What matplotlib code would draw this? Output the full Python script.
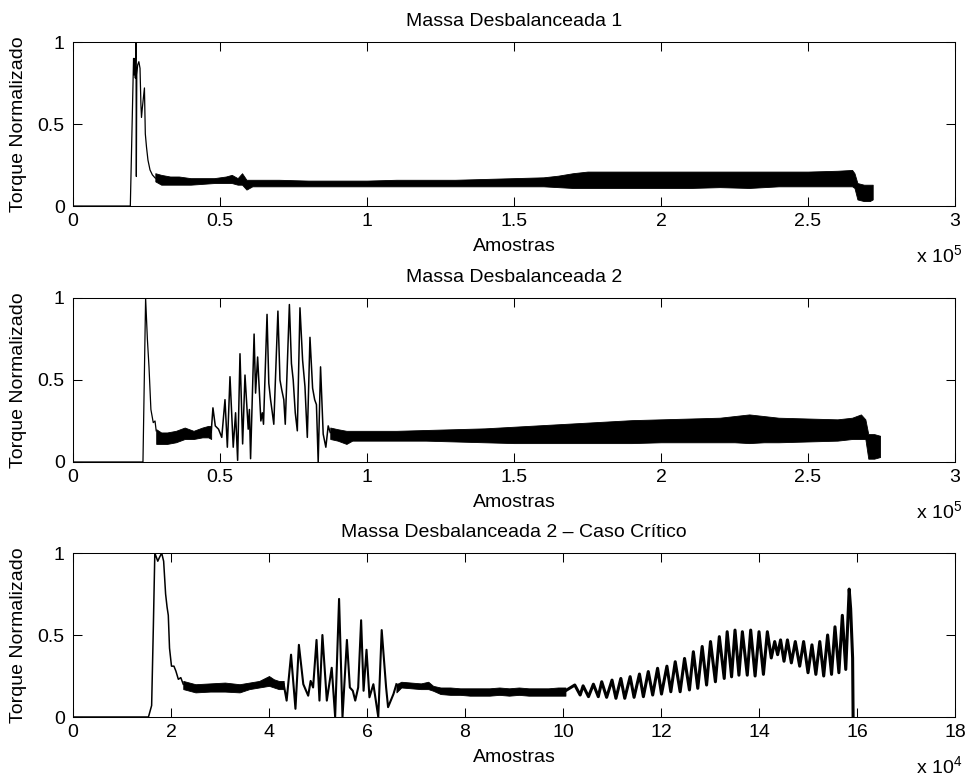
import numpy as np
import matplotlib
matplotlib.use('Agg')
import matplotlib.pyplot as plt
from matplotlib.ticker import FuncFormatter, MultipleLocator

plt.rcParams['font.family'] = ['Liberation Sans', 'DejaVu Sans']
plt.rcParams['mathtext.fontset'] = 'custom'
plt.rcParams['mathtext.rm'] = 'Liberation Sans'

TITLES = ['Massa Desbalanceada 1', 'Massa Desbalanceada 2',
          'Massa Desbalanceada 2 \u2013 Caso Cr\u00edtico']
XLABEL = 'Amostras'
YLABEL = 'Torque Normalizado'

# --- panel 1: start-up transient (line) + noisy running band (envelope) ---
m1_x = [0, 19500, 20600, 20800, 21000, 21200, 21430, 21550, 21700, 22000,
        22400, 22800, 23100, 23300, 23600, 24300, 24600, 25000, 25500,
        26200, 27000, 28000]
m1_y = [0, 0, 0.90, 0.80, 0.90, 0.78, 1.0, 0.18, 0.80, 0.86,
        0.88, 0.84, 0.62, 0.54, 0.60, 0.72, 0.44, 0.36, 0.28,
        0.22, 0.19, 0.17]
m1_bx = [28000, 30000, 33000, 36000, 40000, 44000, 48000, 52000, 54000,
         56000, 57500, 59000, 61000, 65000, 70000, 80000, 90000, 100000,
         110000, 120000, 130000, 140000, 150000, 160000, 165000, 170000,
         175000, 180000, 190000, 200000, 210000, 220000, 230000, 240000,
         250000, 260000, 265000, 265800, 266800, 269000, 271000, 272000]
m1_lo = [0.15, 0.13, 0.13, 0.13, 0.13, 0.135, 0.14, 0.14, 0.14,
         0.13, 0.13, 0.10, 0.12, 0.12, 0.12, 0.12, 0.12, 0.12,
         0.12, 0.12, 0.12, 0.12, 0.12, 0.12, 0.115, 0.11,
         0.11, 0.11, 0.11, 0.11, 0.11, 0.115, 0.11, 0.12,
         0.12, 0.12, 0.12, 0.11, 0.04, 0.03, 0.03, 0.04]
m1_hi = [0.20, 0.19, 0.18, 0.18, 0.17, 0.17, 0.17, 0.18, 0.19,
         0.17, 0.20, 0.16, 0.16, 0.16, 0.16, 0.155, 0.155, 0.155,
         0.16, 0.16, 0.16, 0.165, 0.17, 0.175, 0.185, 0.20,
         0.21, 0.21, 0.21, 0.21, 0.21, 0.21, 0.21, 0.21,
         0.21, 0.215, 0.22, 0.20, 0.14, 0.13, 0.13, 0.13]

# --- panel 2 ---
m2_x = [0, 23800, 24700, 25300, 25850, 26500, 27300, 27900, 28300]
m2_y = [0, 0, 1.0, 0.75, 0.58, 0.32, 0.24, 0.25, 0.19]
m2_b1x = [28300, 30000, 32000, 35000, 38000, 41000, 44000, 46000, 47000]
m2_b1lo = [0.11, 0.11, 0.11, 0.12, 0.14, 0.14, 0.15, 0.15, 0.14]
m2_b1hi = [0.20, 0.18, 0.18, 0.19, 0.21, 0.19, 0.21, 0.22, 0.22]
m2_sx = [47000, 47600, 48400, 49500, 50600, 51700, 52500, 53400, 54500,
         55300, 56000, 56800, 57700, 58500, 59600, 60000, 60400, 61600,
         62100, 62800, 63900, 64400, 64800, 66000, 66600, 67200, 67800,
         68300, 69700, 70400, 71000, 71700, 72200, 73600, 74300, 74900,
         75600, 76300, 77200, 78100, 78900, 79300, 79700, 80600, 81500,
         82200, 82800, 83400, 84200, 85100, 86000, 86800, 87500]
m2_sy = [0.18, 0.33, 0.22, 0.20, 0.15, 0.38, 0.09, 0.52, 0.09,
         0.30, 0.01, 0.66, 0.11, 0.53, 0.20, 0.32, 0.02, 0.78,
         0.42, 0.64, 0.25, 0.30, 0.23, 0.90, 0.48, 0.38, 0.30,
         0.23, 0.92, 0.50, 0.44, 0.38, 0.23, 0.96, 0.60, 0.50,
         0.30, 0.19, 0.94, 0.62, 0.46, 0.30, 0.15, 0.76, 0.45,
         0.38, 0.35, 0.0, 0.58, 0.17, 0.09, 0.22, 0.18]
m2_b2x = [87500, 90000, 93000, 95000, 100000, 110000, 120000, 130000,
          140000, 150000, 160000, 170000, 180000, 190000, 200000, 210000,
          220000, 225000, 230000, 235000, 240000, 250000, 260000, 265000,
          268000, 269500, 270500, 272500, 274500]
m2_b2lo = [0.14, 0.13, 0.11, 0.13, 0.13, 0.13, 0.13, 0.125,
           0.12, 0.115, 0.115, 0.115, 0.115, 0.115, 0.12, 0.12,
           0.12, 0.12, 0.115, 0.12, 0.12, 0.125, 0.13, 0.14,
           0.14, 0.14, 0.02, 0.02, 0.03]
m2_b2hi = [0.21, 0.20, 0.19, 0.19, 0.19, 0.19, 0.195, 0.20,
           0.205, 0.215, 0.225, 0.235, 0.245, 0.255, 0.26, 0.265,
           0.27, 0.28, 0.29, 0.28, 0.27, 0.265, 0.26, 0.27,
           0.29, 0.26, 0.17, 0.17, 0.16]

# --- panel 3 (critical case) ---
m3_x = [0, 15400, 16050, 16400, 16700, 17300, 17600, 18100, 18500, 18900,
        19200, 19450, 19700, 20100, 20600, 21000, 21500, 22000, 22500]
m3_y = [0, 0, 0.07, 0.55, 1.0, 0.95, 0.97, 1.0, 0.95, 0.75,
        0.67, 0.62, 0.42, 0.31, 0.31, 0.28, 0.23, 0.24, 0.20]
m3_b1x = [22500, 25000, 28000, 31000, 34000, 36000, 38000, 40000, 41000,
          42000, 43000]
m3_b1lo = [0.17, 0.15, 0.155, 0.155, 0.15, 0.17, 0.18, 0.19, 0.18, 0.17, 0.17]
m3_b1hi = [0.22, 0.20, 0.205, 0.21, 0.20, 0.21, 0.22, 0.25, 0.23, 0.22, 0.22]
m3_sx = [43000, 43600, 44500, 45400, 46100, 47000, 48000, 48500, 49000,
         49700, 50300, 50900, 51800, 52800, 53500, 54300, 55000, 55900,
         56500, 57100, 57600, 58200, 58800, 59300, 59900, 60500, 61300,
         62300, 63000, 63900, 64300, 65400, 66000]
m3_sy = [0.20, 0.10, 0.38, 0.05, 0.44, 0.20, 0.13, 0.22, 0.18,
         0.47, 0.10, 0.50, 0.10, 0.30, 0.0, 0.72, 0.0, 0.47,
         0.18, 0.16, 0.10, 0.18, 0.59, 0.16, 0.41, 0.12, 0.20,
         0.0, 0.53, 0.18, 0.06, 0.14, 0.20]
m3_b2x = [66000, 67000, 69000, 71000, 72500, 73500, 75000, 77000, 79000,
          81000, 83000, 85000, 87000, 89000, 91000, 93000, 95000, 97000,
          99000, 100500]
m3_b2lo = [0.15, 0.18, 0.175, 0.17, 0.17, 0.16, 0.14, 0.135, 0.135,
           0.13, 0.13, 0.13, 0.135, 0.13, 0.135, 0.13, 0.13, 0.13, 0.13, 0.13]
m3_b2hi = [0.20, 0.215, 0.21, 0.205, 0.215, 0.19, 0.18, 0.18, 0.175,
           0.175, 0.175, 0.175, 0.18, 0.175, 0.18, 0.175, 0.175, 0.175, 0.18, 0.18]
m3_wx = [100500, 102400, 103500, 104100, 105200, 106200, 107200, 107900,
         108900, 110000, 110800, 111800, 112600, 113700, 114500, 115600,
         116400, 117400, 118300, 119300, 120100, 121200, 122000, 122900,
         123900, 124800, 125800, 126600, 127500, 128400, 129300, 130100,
         131100, 131900, 132900, 133500, 134400, 135100, 135900, 136600,
         137600, 138300, 139200, 140000, 140900, 141700, 142500, 143200,
         143800, 144400, 145100, 145800, 146600, 147400, 148300, 149100,
         150000, 150800, 151600, 152400, 153200, 154000, 154800, 155500,
         156300, 157000, 157700, 158400, 158700, 159100, 159200]
m3_wy = [0.16, 0.195, 0.134, 0.19, 0.124, 0.20, 0.124, 0.215,
         0.12, 0.225, 0.114, 0.235, 0.114, 0.246, 0.12, 0.262,
         0.124, 0.277, 0.134, 0.297, 0.14, 0.31, 0.154, 0.337,
         0.154, 0.357, 0.165, 0.398, 0.175, 0.43, 0.195, 0.46,
         0.215, 0.49, 0.235, 0.52, 0.245, 0.53, 0.255, 0.52,
         0.255, 0.53, 0.25, 0.52, 0.26, 0.52, 0.36, 0.46,
         0.38, 0.47, 0.34, 0.47, 0.33, 0.46, 0.31, 0.46,
         0.27, 0.44, 0.26, 0.46, 0.25, 0.50, 0.26, 0.55,
         0.27, 0.62, 0.29, 0.78, 0.66, 0.36, 0.0]

fig = plt.figure(figsize=(9.68, 7.78), dpi=100)
left, width, height = 0.0754, 0.9112, 0.2108
bottoms = [0.7352, 0.4062, 0.0784]
axes = [fig.add_axes([left, b, width, height]) for b in bottoms]

ax = axes[0]
ax.plot(m1_x, m1_y, color='black', lw=0.9)
ax.fill_between(m1_bx, m1_lo, m1_hi, color='black', lw=0.6)

ax = axes[1]
ax.plot(m2_x, m2_y, color='black', lw=0.9)
ax.fill_between(m2_b1x, m2_b1lo, m2_b1hi, color='black', lw=0.6)
ax.plot(m2_sx, m2_sy, color='black', lw=1.1)
ax.fill_between(m2_b2x, m2_b2lo, m2_b2hi, color='black', lw=0.6)

ax = axes[2]
ax.plot(m3_x, m3_y, color='black', lw=1.1)
ax.fill_between(m3_b1x, m3_b1lo, m3_b1hi, color='black', lw=0.6)
ax.plot(m3_sx, m3_sy, color='black', lw=1.5)
ax.fill_between(m3_b2x, m3_b2lo, m3_b2hi, color='black', lw=0.6)
ax.plot(m3_wx, m3_wy, color='black', lw=2.2)

limits = [(3e5, 0.5e5, 1e5, 5), (3e5, 0.5e5, 1e5, 5), (18e4, 2e4, 1e4, 4)]
for ax, title, (xmax, step, scale, expo) in zip(axes, TITLES, limits):
    ax.set_xlim(0, xmax)
    ax.set_ylim(0, 1)
    ax.xaxis.set_major_locator(MultipleLocator(step))
    ax.yaxis.set_major_locator(MultipleLocator(0.5))
    ax.xaxis.set_major_formatter(FuncFormatter(lambda v, p, s=scale: f'{v / s:g}'))
    ax.yaxis.set_major_formatter(FuncFormatter(lambda v, p: f'{v:g}'))
    ax.tick_params(direction='in', length=6.5, width=0.75, top=True, right=True,
                   labelsize=14)
    ax.tick_params(axis='x', pad=5)
    ax.tick_params(axis='y', pad=6)
    for sp in ax.spines.values():
        sp.set_linewidth(0.75)
    ax.set_title(title, fontsize=14, pad=11.3)
    ax.set_xlabel(XLABEL, fontsize=14)
    ax.set_ylabel(YLABEL, fontsize=14)
    ax.xaxis.set_label_coords(0.5, -0.195)
    ax.yaxis.set_label_coords(-0.052, 0.5)
    ax.text(1.008, -0.345, r'x $\mathregular{10^{%d}}$' % expo, transform=ax.transAxes,
            ha='right', va='baseline', fontsize=14)

fig.savefig('out.png', dpi=100)
